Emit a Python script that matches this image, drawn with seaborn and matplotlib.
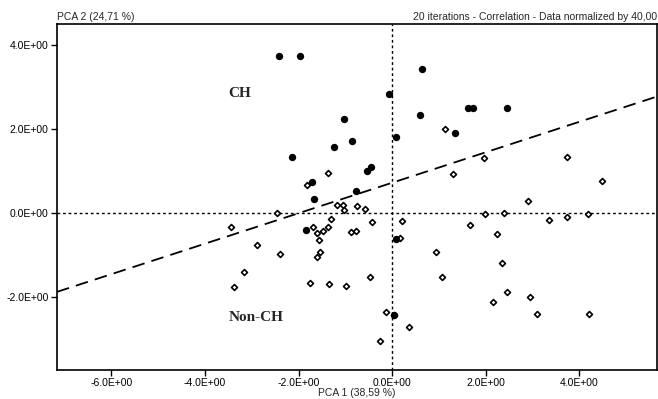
import matplotlib
matplotlib.use("Agg")
import matplotlib.pyplot as plt
import matplotlib.ticker as mticker
import seaborn as sns
import pandas as pd

# CH samples (filled dots)
ch_x = [-2.42, -1.96, 0.63, -0.06, 0.59, -1.02, 1.35, 0.09, -0.85, -1.24, -2.14,
        -0.54, -0.45, 1.62, 1.72, 2.45, -1.72, -0.77, -1.67, -1.85, 0.09, 0.03]
ch_y = [3.75, 3.75, 3.44, 2.84, 2.33, 2.23, 1.90, 1.81, 1.71, 1.58, 1.33,
        1.01, 1.10, 2.49, 2.49, 2.49, 0.73, 0.53, 0.33, -0.40, -0.63, -2.43]

# Non-CH samples (open diamonds)
non_x = [1.12, -1.37, 1.29, 1.97, 3.73, 4.49, 2.91, 1.99, 2.38, 3.35, 3.73, 4.18,
         1.67, 2.24, 0.93, -2.46, -3.45, -2.88, -2.39, -3.16, -3.38, -1.81, -1.17,
         -1.06, -1.02, -0.75, -0.59, -1.30, -0.42, 0.21, -1.69, -1.61, -1.48, -1.37,
         -1.56, -0.88, -0.78, 0.17, -1.54, -1.61, -1.76, -1.35, -0.99, -0.47, 1.07,
         -0.13, 0.05, 0.35, -0.26, 2.35, 2.45, 2.15, 2.95, 3.10, 4.20]
non_y = [1.99, 0.95, 0.92, 1.30, 1.34, 0.76, 0.29, -0.03, 0.01, -0.17, -0.09, -0.02,
         -0.28, -0.51, -0.94, -0.01, -0.33, -0.76, -0.98, -1.40, -1.77, 0.67, 0.19,
         0.20, 0.08, 0.17, 0.10, -0.15, -0.21, -0.18, -0.34, -0.48, -0.43, -0.34,
         -0.65, -0.46, -0.42, -0.60, -0.92, -1.05, -1.67, -1.69, -1.73, -1.53, -1.52,
         -2.35, -2.44, -2.71, -3.05, -1.20, -1.88, -2.13, -2.00, -2.40, -2.40]

# separating line y = a + b*x
line_intercept = 0.72
line_slope = 0.363

x_ticks = [-6, -4, -2, 0, 2, 4]
y_ticks = [-2, 0, 2, 4]

ch = pd.DataFrame({"x": ch_x, "y": ch_y})
non = pd.DataFrame({"x": non_x, "y": non_y})

sns.set_style("white")
plt.rcParams["font.family"] = ["Liberation Sans Narrow", "Liberation Sans", "DejaVu Sans"]

fig = plt.figure(figsize=(6.58, 3.99), dpi=100)
ax = fig.add_axes([0.0866, 0.0727, 0.912, 0.867])

ax.axhline(0, color="black", lw=1.0, ls=(0, (2, 2)), zorder=1)
ax.axvline(0, color="black", lw=1.0, ls=(0, (2, 2)), zorder=1)
ax.axline((0, line_intercept), slope=line_slope, color="black", lw=1.3,
          ls=(0, (7, 4)), zorder=1)

sns.scatterplot(data=non, x="x", y="y", marker="D", s=9, facecolor="white",
                edgecolor="black", linewidth=1.2, ax=ax, zorder=3)
sns.scatterplot(data=ch, x="x", y="y", marker="o", s=28, color="black",
                edgecolor="black", linewidth=0, ax=ax, zorder=4)

ax.set_xlim(-7.16, 5.66)
ax.set_ylim(-3.74, 4.5)
ax.set_xticks(x_ticks)
ax.set_yticks(y_ticks)
ax.xaxis.set_major_formatter(mticker.FormatStrFormatter("%.1E"))
ax.yaxis.set_major_formatter(mticker.FormatStrFormatter("%.1E"))
ax.tick_params(axis="both", direction="out", length=4, width=1, labelsize=7.5,
               pad=2, bottom=True, left=True, colors="black")
for sp in ax.spines.values():
    sp.set_color("black")
    sp.set_linewidth(1.2)

ax.set_xlabel("PCA 1 (38,59 %)", fontsize=7.5, labelpad=0)
ax.set_ylabel("")
ax.text(0, 1.005, "PCA 2 (24,71 %)", transform=ax.transAxes, fontsize=7.5,
        ha="left", va="bottom")
ax.text(1, 1.005, "20 iterations - Correlation - Data normalized by 40,00",
        transform=ax.transAxes, fontsize=7.5, ha="right", va="bottom")

ax.text(-3.5, 2.85, "CH", fontsize=11, fontweight="bold",
        family=["Liberation Serif", "DejaVu Serif"], va="center")
ax.text(-3.5, -2.48, "Non-CH", fontsize=11, fontweight="bold",
        family=["Liberation Serif", "DejaVu Serif"], va="center")

fig.savefig("out.png", dpi=100)
